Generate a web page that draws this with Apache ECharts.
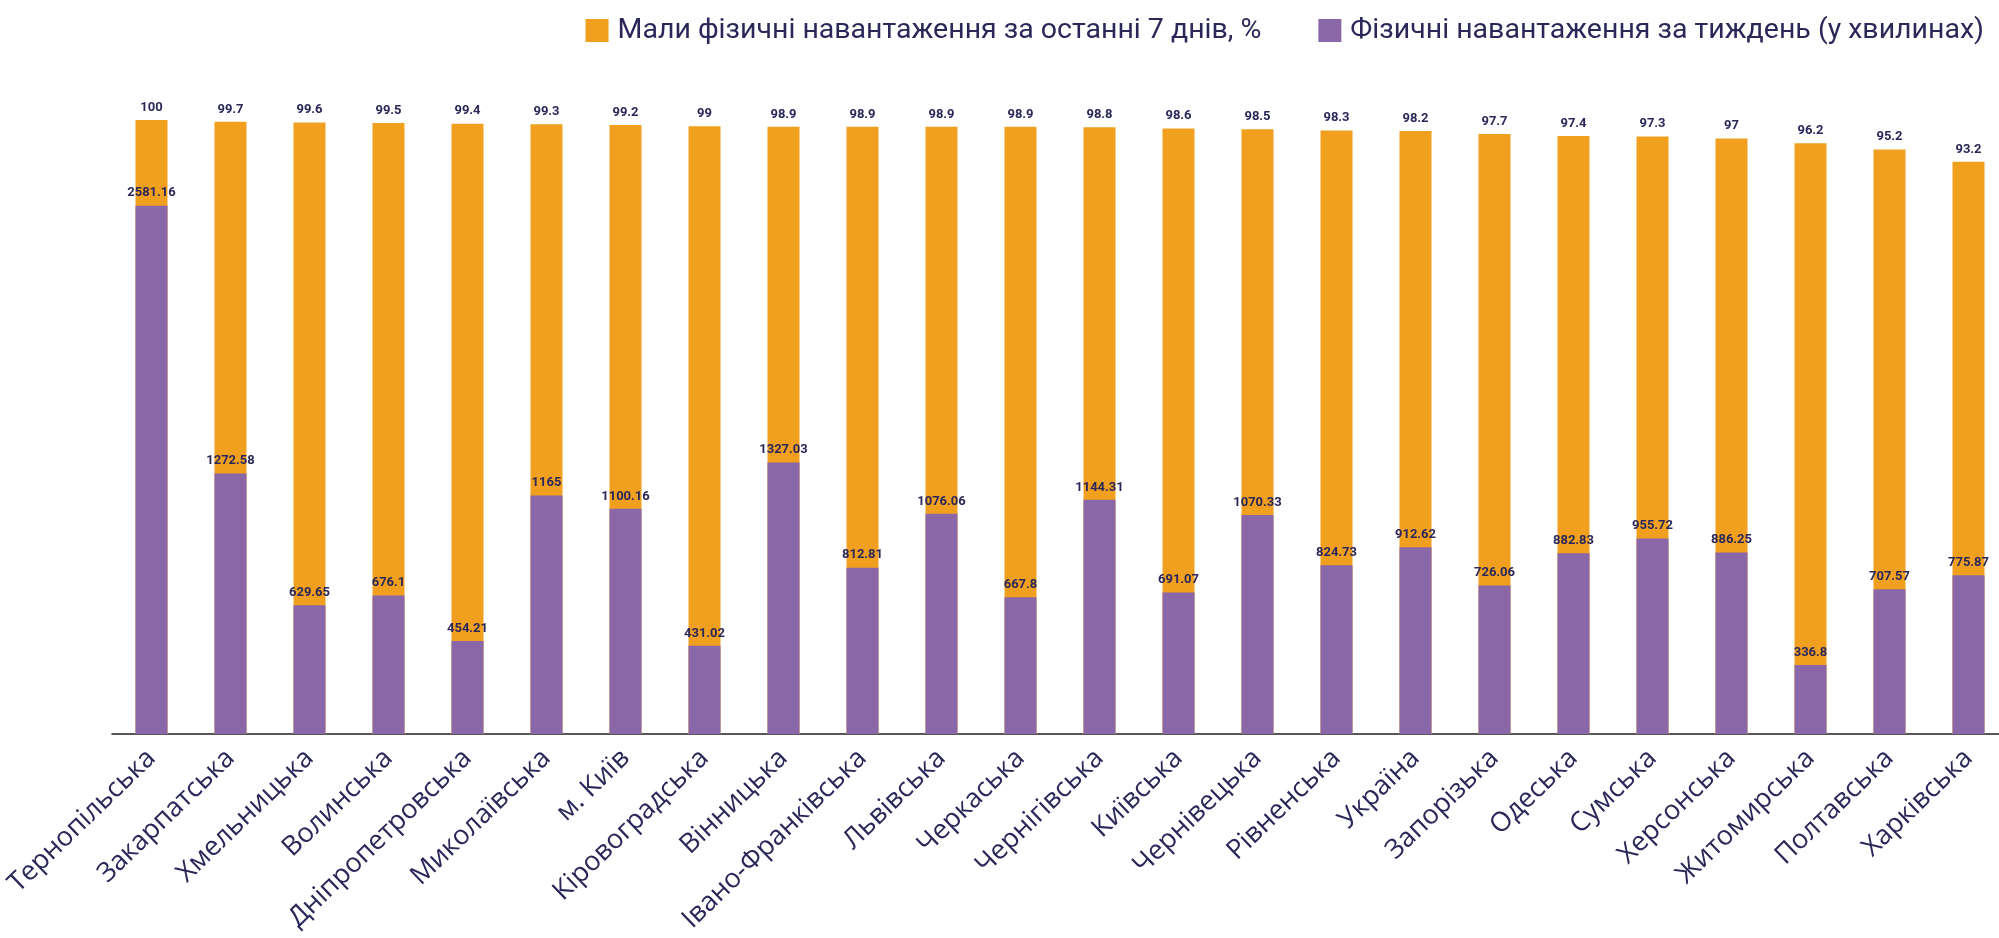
<!DOCTYPE html>
<html>
<head>
<meta charset="utf-8">
<script src="https://cdn.jsdelivr.net/npm/echarts@6/dist/echarts.min.js"></script>
<style>
  html, body { margin: 0; padding: 0; background: #ffffff; overflow: hidden; }
  #chart { width: 2008px; height: 938px; }
</style>
</head>
<body>
<div id="chart"></div>
<script>
// Regions (plus Ukraine overall), ordered by share of physically active people
const regions = [
  'Тернопільська', 'Закарпатська', 'Хмельницька', 'Волинська', 'Дніпропетровська',
  'Миколаївська', 'м. Київ', 'Кіровоградська', 'Вінницька', 'Івано-Франківська',
  'Львівська', 'Черкаська', 'Чернігівська', 'Київська', 'Чернівецька',
  'Рівненська', 'Україна', 'Запорізька', 'Одеська', 'Сумська',
  'Херсонська', 'Житомирська', 'Полтавська', 'Харківська'
];

// Share who had physical activity during the last 7 days, %
const activeShare = [
  100, 99.7, 99.6, 99.5, 99.4,
  99.3, 99.2, 99, 98.9, 98.9,
  98.9, 98.9, 98.8, 98.6, 98.5,
  98.3, 98.2, 97.7, 97.4, 97.3,
  97, 96.2, 95.2, 93.2
];

// Physical activity per week, minutes
const weeklyMinutes = [
  2581.16, 1272.58, 629.65, 676.1, 454.21,
  1165, 1100.16, 431.02, 1327.03, 812.81,
  1076.06, 667.8, 1144.31, 691.07, 1070.33,
  824.73, 912.62, 726.06, 882.83, 955.72,
  886.25, 336.8, 707.57, 775.87
];

const seriesNames = [
  'Мали фізичні навантаження за останні 7 днів, %',
  'Фізичні навантаження за тиждень (у хвилинах)'
];

const ORANGE = '#F19F1F';
const PURPLE = '#8A67A8';
const INK = '#2B2859';

const chart = echarts.init(document.getElementById('chart'), null, { renderer: 'canvas' });

const valueLabel = {
  show: true,
  position: 'top',
  distance: 6,
  color: INK,
  fontFamily: 'Roboto',
  fontWeight: 'bold',
  fontSize: 13
};

chart.setOption({
  animation: false,
  backgroundColor: '#ffffff',
  legend: {
    top: 11,
    right: 19,
    itemWidth: 23,
    itemHeight: 23,
    itemGap: 57,
    icon: 'rect',
    textStyle: {
      color: INK,
      fontFamily: 'Roboto',
      fontSize: 28.5,
      padding: [0, 0, 0, 4]
    },
    data: seriesNames
  },
  grid: {
    left: 112,
    right: 0,
    top: 120,
    height: 614,
    containLabel: false
  },
  xAxis: {
    type: 'category',
    data: regions,
    boundaryGap: true,
    axisTick: { show: false },
    axisLine: { lineStyle: { color: '#231F20', width: 1.5 } },
    axisLabel: {
      interval: 0,
      rotate: 44,
      margin: 20,
      color: INK,
      fontFamily: 'Open Sans',
      fontSize: 27
    }
  },
  yAxis: [
    { type: 'value', min: 0, max: 100, show: false },
    { type: 'value', min: 0, max: 3000, show: false }
  ],
  series: [
    {
      name: seriesNames[0],
      type: 'bar',
      yAxisIndex: 0,
      data: activeShare,
      barWidth: 32,
      barGap: '-100%',
      itemStyle: { color: ORANGE },
      label: valueLabel,
      z: 2
    },
    {
      name: seriesNames[1],
      type: 'bar',
      yAxisIndex: 1,
      data: weeklyMinutes,
      barWidth: 32,
      barGap: '-100%',
      itemStyle: { color: PURPLE },
      label: valueLabel,
      z: 3
    }
  ]
});
</script>
</body>
</html>
